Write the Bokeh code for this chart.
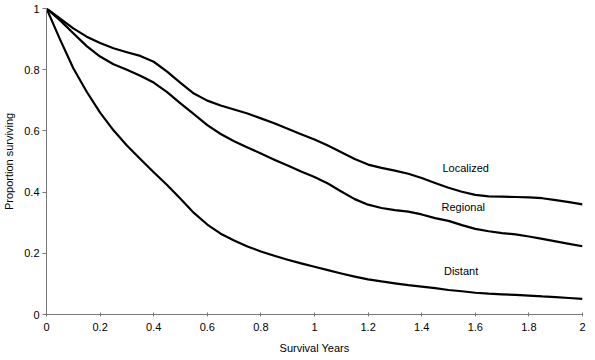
from bokeh.plotting import figure
from bokeh.models import Range1d, FixedTicker, ColumnDataSource
from bokeh.core.properties import value
from bokeh.embed import file_html
from bokeh.resources import INLINE

# ---- data ----
years = [0.00, 0.05, 0.10, 0.15, 0.20, 0.25, 0.30, 0.35, 0.40, 0.45,
         0.50, 0.55, 0.60, 0.65, 0.70, 0.75, 0.80, 0.85, 0.90, 0.95,
         1.00, 1.05, 1.10, 1.15, 1.20, 1.25, 1.30, 1.35, 1.40, 1.45,
         1.50, 1.55, 1.60, 1.65, 1.70, 1.75, 1.80, 1.85, 1.90, 1.95, 2.00]
localized = [1.000, 0.968, 0.935, 0.908, 0.887, 0.870, 0.857, 0.845, 0.826, 0.794,
             0.757, 0.722, 0.699, 0.683, 0.670, 0.657, 0.641, 0.625, 0.607, 0.589,
             0.572, 0.552, 0.530, 0.508, 0.490, 0.479, 0.470, 0.460, 0.446, 0.430,
             0.414, 0.401, 0.391, 0.386, 0.385, 0.384, 0.383, 0.380, 0.374, 0.367, 0.360]
regional = [1.000, 0.962, 0.919, 0.877, 0.843, 0.818, 0.800, 0.780, 0.758, 0.727,
            0.690, 0.655, 0.619, 0.590, 0.566, 0.546, 0.526, 0.506, 0.487, 0.467,
            0.449, 0.428, 0.402, 0.377, 0.359, 0.348, 0.341, 0.336, 0.327, 0.315,
            0.306, 0.292, 0.280, 0.272, 0.266, 0.262, 0.255, 0.247, 0.239, 0.231, 0.223]
distant = [1.000, 0.900, 0.805, 0.728, 0.660, 0.602, 0.552, 0.508, 0.465, 0.423,
           0.378, 0.332, 0.294, 0.264, 0.242, 0.222, 0.206, 0.192, 0.179, 0.167,
           0.156, 0.145, 0.134, 0.124, 0.115, 0.108, 0.102, 0.096, 0.091, 0.086,
           0.080, 0.076, 0.071, 0.068, 0.066, 0.064, 0.062, 0.059, 0.057, 0.054, 0.051]

series_names = ["Localized", "Regional", "Distant"]
label_x = [1.564, 1.555, 1.547]
label_y = [0.478, 0.35, 0.141]

x_ticks = [0, 0.2, 0.4, 0.6, 0.8, 1.0, 1.2, 1.4, 1.6, 1.8, 2.0]
x_tick_labels = ["0", "0.2", "0.4", "0.6", "0.8", "1", "1.2", "1.4", "1.6", "1.8", "2"]
y_ticks = [0, 0.2, 0.4, 0.6, 0.8, 1.0]
y_tick_labels = ["0", "0.2", "0.4", "0.6", "0.8", "1"]

FONT = "Liberation Sans"

p = figure(frame_width=536, frame_height=306, output_backend="svg", toolbar_location=None,
           x_range=Range1d(0, 2), y_range=Range1d(0, 1),
           min_border_left=39, min_border_right=4, min_border_top=8, min_border_bottom=40)
p.outline_line_color = None
p.xgrid.visible = False
p.ygrid.visible = False
p.background_fill_color = "white"
p.border_fill_color = "white"

for ys in (localized, regional, distant):
    p.line(years, ys, line_color="black", line_width=2.2, line_join="round")

src = ColumnDataSource(dict(x=label_x, y=label_y, t=series_names))
p.text(x="x", y="y", text="t", source=src, text_font=value(FONT),
       text_font_size="11px", text_align="center", text_baseline="middle",
       text_color="black")

# axes
p.xaxis.ticker = FixedTicker(ticks=x_ticks)
p.xaxis.major_label_overrides = {t: l for t, l in zip(x_ticks, x_tick_labels)}
p.yaxis.ticker = FixedTicker(ticks=y_ticks)
p.yaxis.major_label_overrides = {t: l for t, l in zip(y_ticks, y_tick_labels)}

for ax in (p.xaxis, p.yaxis):
    ax.axis_line_color = "#777777"
    ax.axis_line_width = 1
    ax.major_tick_line_color = "#777777"
    ax.minor_tick_line_color = None
    ax.major_label_text_font = FONT
    ax.major_label_text_font_size = "11px"
    ax.major_label_text_color = "black"
    ax.axis_label_text_font = FONT
    ax.axis_label_text_font_size = "11px"
    ax.axis_label_text_font_style = "normal"
    ax.axis_label_text_color = "black"

p.xaxis.axis_label = "Survival Years"
p.xaxis.major_tick_in = 2
p.xaxis.major_tick_out = 2
p.xaxis.major_label_standoff = 6
p.xaxis.axis_label_standoff = 8

p.yaxis.axis_label = "Proportion surviving"
p.yaxis.major_tick_in = 0
p.yaxis.major_tick_out = 4
p.yaxis.major_label_standoff = 3
p.yaxis.axis_label_standoff = 6

open("out.html", "w").write(file_html(p, INLINE))
